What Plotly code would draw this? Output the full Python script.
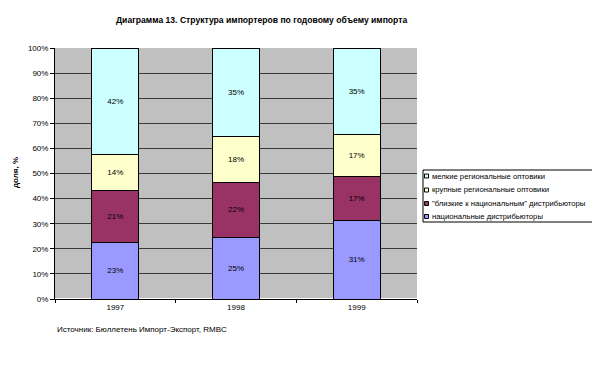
import plotly.graph_objects as go

years = ["1997", "1998", "1999"]
national = [22.6, 24.7, 31.4]
near_national = [20.8, 21.9, 17.4]
large_regional = [14.2, 18.1, 16.6]
small_regional = [42.4, 35.3, 34.6]

series_names = [
    "национальные дистрибьюторы",
    "\"близкие к национальным\" дистрибьюторы",
    "крупные региональные оптовики",
    "мелкие региональные оптовики",
]
series_values = [national, near_national, large_regional, small_regional]
series_colors = ["#9999FF", "#993366", "#FFFFCC", "#CCFFFF"]

ytick_vals = [0, 10, 20, 30, 40, 50, 60, 70, 80, 90, 100]
ytick_text = [f"{v}%" for v in ytick_vals]

FONT = "Liberation Sans, Arial, sans-serif"

# page body has an 8px margin; layout in figure pixels
W, H = 600, 373
OFF = 8
PL, PT = 55 - OFF, 48 - OFF          # plot left / top in figure px
PW, PH = 362, 251                    # plot width / height


def px(xv):
    return (xv - OFF - PL) / PW


def py(yv):
    return (PT + PH - (yv - OFF)) / PH


fig = go.Figure()
for name, vals, col in zip(series_names, series_values, series_colors):
    fig.add_trace(go.Bar(
        x=years, y=vals, name=name,
        marker=dict(color=col, line=dict(color="#000000", width=1)),
        text=[f"{round(v):.0f}%" for v in vals],
        textposition="inside", insidetextanchor="middle", textangle=0,
        textfont=dict(family=FONT, size=8, color="#000000"),
        constraintext="none",
        showlegend=False,
    ))

fig.update_layout(
    barmode="stack",
    bargap=0.61,
    width=W, height=H,
    margin=dict(l=PL, r=W - PL - PW, t=PT, b=H - PT - PH),
    paper_bgcolor="#FFFFFF",
    plot_bgcolor="#C0C0C0",
    font=dict(family=FONT, size=8, color="#000000"),
    showlegend=False,
)

fig.update_xaxes(
    type="category",
    showline=True, linecolor="#000000", linewidth=1,
    ticks="outside", tickson="boundaries", ticklen=3, tickcolor="#000000",
    showgrid=False,
    tickfont=dict(family=FONT, size=8),
)
fig.update_yaxes(
    range=[0, 100],
    tickvals=ytick_vals, ticktext=ytick_text,
    showline=True, linecolor="#000000", linewidth=1,
    ticks="outside", ticklen=4, tickcolor="#000000",
    showgrid=True, gridcolor="#3a3a3a", gridwidth=1,
    tickfont=dict(family=FONT, size=8),
)

# title
fig.add_annotation(
    text="<b>Диаграмма 13. Структура импортеров по годовому объему импорта</b>",
    xref="paper", yref="paper", x=px(261), y=py(20),
    xanchor="center", yanchor="middle", showarrow=False,
    font=dict(family=FONT, size=8.6, color="#000000"),
)
# y axis title
fig.add_annotation(
    text="<b>доля, %</b>",
    xref="paper", yref="paper", x=px(15), y=py(173),
    xanchor="center", yanchor="middle", showarrow=False, textangle=-90,
    font=dict(family=FONT, size=8, color="#000000"),
)
# source
fig.add_annotation(
    text="Источник: Бюллетень Импорт-Экспорт, RMBC",
    xref="paper", yref="paper", x=px(55), y=py(329),
    xanchor="left", yanchor="middle", showarrow=False,
    font=dict(family=FONT, size=8, color="#000000"),
)

# manual legend (Excel style)
fig.add_shape(type="rect", xref="paper", yref="paper",
              x0=px(423), x1=px(594), y0=py(170), y1=py(222),
              line=dict(color="#000000", width=1), fillcolor="#FFFFFF",
              layer="above")
legend_rows_y = [176, 190, 203.5, 216.5]
legend_order = [3, 2, 1, 0]
for ry, idx in zip(legend_rows_y, legend_order):
    fig.add_shape(type="rect", xref="paper", yref="paper",
                  x0=px(424.5), x1=px(428.5), y0=py(ry - 2), y1=py(ry + 2),
                  line=dict(color="#000000", width=1),
                  fillcolor=series_colors[idx], layer="above")
    fig.add_annotation(
        text=series_names[idx], xref="paper", yref="paper",
        x=px(429.5), y=py(ry), xanchor="left", yanchor="middle",
        showarrow=False, font=dict(family=FONT, size=7.7, color="#000000"),
    )

fig.write_html("out.html")
